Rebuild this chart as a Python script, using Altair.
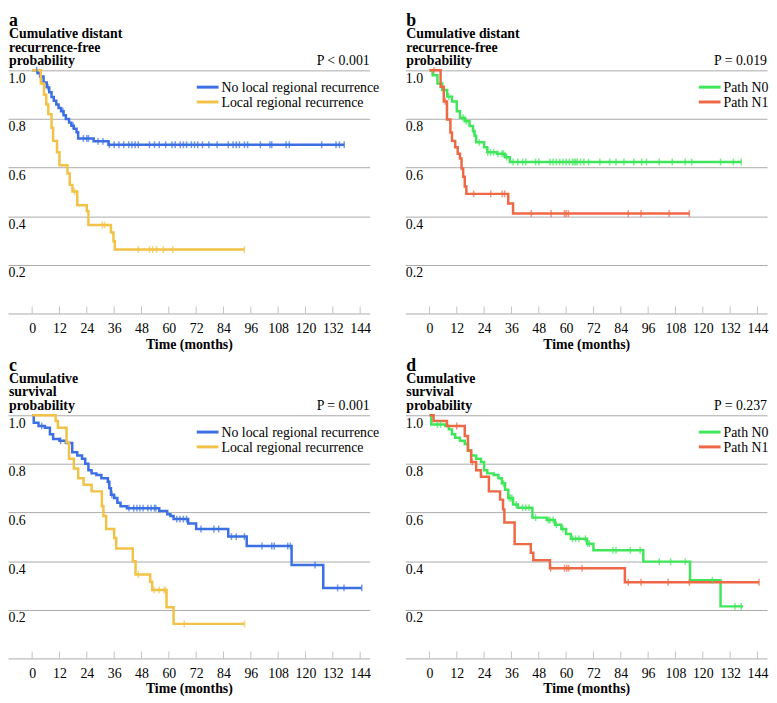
import altair as alt
import pandas as pd

FONT = "Liberation Serif"
W, H = 366, 246
XMIN, XMAX = -10.6, 148.2

x_ticks = [0, 12, 24, 36, 48, 60, 72, 84, 96, 108, 120, 132, 144]
y_ticks = [0.2, 0.4, 0.6, 0.8, 1.0]

# ---------- Panel a : distant recurrence-free, by local regional recurrence
a_names = ["No local regional recurrence", "Local regional recurrence"]
a_no_t = [0, 2.5, 3.5, 5.0, 6.4, 7.5, 8.5, 9.5, 10.6, 11.6, 12.7, 13.8, 14.8, 16.2, 17.2, 18.3, 19.5, 20.2, 27.0, 33.5]
a_no_v = [1.0, 0.988, 0.975, 0.95, 0.93, 0.91, 0.89, 0.875, 0.86, 0.845, 0.832, 0.815, 0.80, 0.785, 0.772, 0.76, 0.745, 0.72, 0.708, 0.694]
a_no_end = 137.0
a_no_c = [2.0, 7.0, 13.5, 18.0, 22.5, 24.0, 24.7, 28.9, 31.1, 33.9, 36.0, 38.1, 40.2, 42.4, 43.8, 45.2, 46.6,
          51.5, 53.7, 55.8, 58.6, 61.4, 62.8, 65.0, 66.4, 67.8, 69.9, 71.3, 72.7, 74.8, 77.6, 81.2, 86.1,
          88.2, 89.6, 91.0, 93.2, 94.6, 100.2, 104.4, 105.2, 111.5, 112.9, 127.1, 133.4, 134.9, 137.0]
a_lr_t = [0, 3.8, 5.2, 6.2, 7.1, 8.5, 9.2, 10.9, 12.0, 15.5, 16.5, 17.7, 19.8, 24.0, 24.7, 34.6, 35.7, 36.3]
a_lr_v = [1.0, 0.946, 0.90, 0.86, 0.82, 0.764, 0.71, 0.663, 0.61, 0.576, 0.529, 0.502, 0.445, 0.421, 0.364, 0.333, 0.297, 0.263]
a_lr_end = 93.2
a_lr_c = [18.6, 30.8, 31.8, 46.6, 51.5, 52.9, 54.6, 57.6, 61.7, 93.2]

# ---------- Panel b : distant recurrence-free, by pathologic N
b_names = ["Path N0", "Path N1"]
b_n0_t = [0, 1.4, 3.5, 5.6, 7.8, 9.9, 12.0, 13.4, 15.5, 17.6, 19.1, 19.8, 20.5, 24.0, 25.4, 29.6, 33.2, 35.3]
b_n0_v = [1.0, 0.98, 0.946, 0.919, 0.892, 0.872, 0.832, 0.805, 0.791, 0.771, 0.751, 0.731, 0.704, 0.684, 0.663, 0.657, 0.643, 0.623]
b_n0_end = 136.9
b_n0_c = [8.5, 14.8, 16.2, 19.3, 21.9, 25.6, 26.8, 28.2, 30.0, 31.9, 32.5, 33.9, 36.7, 38.8, 40.9, 42.3, 46.6, 48.0,
          52.9, 54.3, 55.7, 57.2, 58.6, 60.0, 61.4, 62.8, 63.5, 64.2, 64.9, 66.3, 67.8, 69.9, 74.8, 79.1, 81.9,
          85.4, 89.7, 93.2, 95.3, 100.9, 106.6, 112.3, 115.1, 127.8, 133.4, 136.9]
b_n1_t = [0, 4.9, 6.3, 7.7, 9.2, 9.9, 11.3, 12.4, 13.4, 14.1, 14.8, 15.5, 16.2, 34.6, 36.7]
b_n1_v = [1.0, 0.933, 0.872, 0.798, 0.744, 0.71, 0.684, 0.657, 0.637, 0.596, 0.562, 0.522, 0.492, 0.452, 0.411]
b_n1_end = 114.1
b_n1_c = [2.0, 7.0, 19.4, 26.9, 31.9, 33.0, 44.7, 53.4, 59.3, 60.0, 61.0, 87.3, 92.9, 105.2, 114.1]

# ---------- Panel c : survival, by local regional recurrence
c_no_t = [0, 0.7, 2.8, 5.6, 7.8, 9.2, 12.0, 14.8, 17.6, 19.8, 21.9, 23.3, 24.7, 26.1, 28.2, 30.4, 33.2, 33.9,
          34.6, 36.0, 37.4, 38.8, 41.6, 55.8, 59.3, 60.7, 62.1, 68.5, 72.0, 86.1, 94.2, 113.9, 127.8]
c_no_v = [1.0, 0.969, 0.956, 0.949, 0.922, 0.902, 0.895, 0.886, 0.848, 0.835, 0.821, 0.801, 0.774, 0.761, 0.754,
          0.741, 0.727, 0.70, 0.673, 0.66, 0.64, 0.626, 0.618, 0.606, 0.593, 0.586, 0.573, 0.555, 0.532, 0.501,
          0.462, 0.384, 0.29]
c_no_end = 144.7
c_no_c = [4.2, 12.5, 33.5, 35.0, 42.5, 44.6, 46.0, 47.3, 48.7, 50.8, 52.2, 53.7, 54.3, 63.5, 64.9, 66.4, 67.8,
          74.1, 79.8, 81.9, 87.5, 89.6, 93.2, 100.9, 105.2, 106.3, 112.2, 113.4, 124.2, 134.1, 136.9, 144.7]
c_lr_t = [0, 10.3, 11.3, 15.1, 16.2, 18.3, 20.2, 22.6, 26.1, 30.6, 31.3, 32.5, 36.0, 36.9, 44.2, 45.4, 51.8, 52.7, 59.0, 62.1]
c_lr_v = [1.0, 0.976, 0.949, 0.888, 0.821, 0.781, 0.741, 0.714, 0.687, 0.626, 0.586, 0.532, 0.495, 0.452, 0.40,
          0.345, 0.315, 0.281, 0.21, 0.142]
c_lr_end = 93.2
c_lr_c = [46.6, 53.5, 55.8, 57.9, 58.6, 66.8, 93.2]

# ---------- Panel d : survival, by pathologic N
d_n0_t = [0, 0.8, 7.0, 8.5, 9.9, 11.3, 13.4, 15.5, 16.9, 18.3, 20.5, 22.6, 24.0, 25.4, 28.2, 30.3, 31.8, 33.2,
          34.6, 36.7, 38.8, 45.2, 51.5, 55.1, 57.9, 60.0, 62.1, 69.2, 72.0, 93.9, 114.4, 127.8]
d_n0_v = [1.0, 0.962, 0.956, 0.942, 0.922, 0.908, 0.895, 0.882, 0.855, 0.835, 0.821, 0.808, 0.774, 0.761, 0.754,
          0.741, 0.72, 0.694, 0.66, 0.633, 0.62, 0.579, 0.569, 0.55, 0.532, 0.512, 0.492, 0.472, 0.445, 0.398,
          0.321, 0.214]
d_n0_end = 137.7
d_n0_c = [3.5, 4.9, 32.5, 35.0, 35.6, 36.2, 38.1, 40.9, 42.3, 43.7, 46.6, 52.2, 52.9, 54.3, 55.7, 58.6, 62.8,
          64.2, 65.6, 68.5, 69.5, 70.2, 80.5, 81.9, 88.2, 92.5, 100.9, 105.9, 112.3, 124.2, 134.1, 136.9]
d_n1_t = [0, 1.8, 7.7, 15.5, 16.9, 18.3, 20.5, 22.6, 26.1, 31.0, 32.3, 32.9, 37.4, 44.5, 45.6, 52.9, 85.8]
d_n1_v = [1.0, 0.976, 0.956, 0.915, 0.855, 0.808, 0.774, 0.747, 0.687, 0.653, 0.613, 0.559, 0.47, 0.435, 0.404,
          0.371, 0.313]
d_n1_end = 144.7
d_n1_c = [12.0, 18.8, 53.2, 59.3, 60.3, 61.1, 67.0, 87.3, 92.9, 104.8, 114.1, 144.7]

BLUE, YELLOW, GREEN, RED = "#3b6fe3", "#f2c246", "#40e65a", "#ef6845"
GRID = "#aaaaaa"


def step_rows(name, times, values, end):
    rows = [{"t": t, "s": v, "g": name} for t, v in zip(times, values)]
    rows.append({"t": end, "s": values[-1], "g": name})
    return rows


def censor_rows(name, times, values, cens):
    rows = []
    for c in cens:
        s = values[0]
        for t, v in zip(times, values):
            if t <= c:
                s = v
        rows.append({"t": c, "s": s, "g": name})
    return rows


def label(txt, xpos, ypos, size, weight, align="left"):
    return alt.Chart(pd.DataFrame({"txt": [txt]})).mark_text(
        align=align, baseline="alphabetic", font=FONT, fontSize=size, fontWeight=weight, color="black"
    ).encode(x=alt.value(xpos), y=alt.value(ypos), text="txt:N")


def legend_entry(name, col, x0, row):
    yc = 17 + 15 * row
    sym = alt.Chart(pd.DataFrame({"g": [name]})).mark_rule(strokeWidth=3, color=col).encode(
        x=alt.value(x0), x2=alt.value(x0 + 22), y=alt.value(yc))
    txt = label(name, x0 + 25, yc + 5, 14, "normal")
    return [sym, txt]


def panel(letter, ylines, ptext, names, colors, series, legend_off):
    line_rows, cens_rows = [], []
    for name, (tt, vv, end, cc) in zip(names, series):
        line_rows += step_rows(name, tt, vv, end)
        cens_rows += censor_rows(name, tt, vv, cc)
    line_df = pd.DataFrame(line_rows)
    cens_df = pd.DataFrame(cens_rows)

    xs = alt.Scale(domain=[XMIN, XMAX], nice=False, zero=False)
    ys = alt.Scale(domain=[0, 1], nice=False, zero=True)
    cs = alt.Scale(domain=names, range=colors)
    x_axis = alt.Axis(
        values=x_ticks, title="Time (months)", ticks=False, grid=False, domain=True,
        domainColor=GRID, domainWidth=1, labelFont=FONT, labelFontSize=14, labelColor="black",
        labelPadding=8, labelFlush=False, labelOverlap=False, titleFont=FONT, titleFontSize=14,
        titleFontWeight="bold", titleColor="black", titlePadding=2)
    y_axis = alt.Axis(
        values=y_ticks, format=".1f", title=None, ticks=False, domain=False, grid=True,
        gridColor=GRID, gridWidth=1, labelAlign="left", labelBaseline="top", labelPadding=0,
        labelOffset=1, labelFont=FONT, labelFontSize=14, labelColor="black", labelFlush=False,
        labelOverlap=False)
    x_enc = alt.X("t:Q", scale=xs, axis=x_axis)
    y_enc = alt.Y("s:Q", scale=ys, axis=y_axis)

    tick_layer = alt.Chart(pd.DataFrame({"t": x_ticks})).mark_tick(
        orient="vertical", size=7, thickness=1, color=GRID, yOffset=-3.5
    ).encode(x=x_enc, y=alt.value("height"))

    lines = alt.Chart(line_df).mark_line(interpolate="step-after", strokeWidth=2.5).encode(
        x=x_enc, y=y_enc, color=alt.Color("g:N", scale=cs, legend=None), detail="g:N")
    cens = alt.Chart(cens_df).mark_tick(orient="vertical", size=7, thickness=1.5).encode(
        x=x_enc, y=y_enc, color=alt.Color("g:N", scale=cs, legend=None))

    texts = [
        label(letter, 1, -45, 18, "bold"),
        label(ylines[0], 1, -33, 14, "bold"),
        label(ylines[1], 1, -19, 14, "bold"),
        label(ylines[2], 1, -5, 14, "bold"),
        label(ptext, W, -5, 14, "normal", align="right"),
    ]
    leg = []
    for i, (n, c) in enumerate(zip(names, colors)):
        leg += legend_entry(n, c, W - legend_off, i)

    return alt.layer(lines, cens, tick_layer, *texts, *leg).properties(width=W, height=H)


ya = ["Cumulative distant", "recurrence-free", "probability"]
ys_ = ["Cumulative", "survival", "probability"]

pa = panel("a", ya, "P < 0.001", a_names, [BLUE, YELLOW],
           [(a_no_t, a_no_v, a_no_end, a_no_c), (a_lr_t, a_lr_v, a_lr_end, a_lr_c)], 175)
pb = panel("b", ya, "P = 0.019", b_names, [GREEN, RED],
           [(b_n0_t, b_n0_v, b_n0_end, b_n0_c), (b_n1_t, b_n1_v, b_n1_end, b_n1_c)], 69)
pc = panel("c", ys_, "P = 0.001", a_names, [BLUE, YELLOW],
           [(c_no_t, c_no_v, c_no_end, c_no_c), (c_lr_t, c_lr_v, c_lr_end, c_lr_c)], 175)
pd_ = panel("d", ys_, "P = 0.237", b_names, [GREEN, RED],
            [(d_n0_t, d_n0_v, d_n0_end, d_n0_c), (d_n1_t, d_n1_v, d_n1_end, d_n1_c)], 69)

row1 = alt.hconcat(pa, pb, spacing=26).resolve_scale(color="independent")
row2 = alt.hconcat(pc, pd_, spacing=26).resolve_scale(color="independent")

chart = alt.vconcat(row1, row2, spacing=6).resolve_scale(color="independent").properties(
    padding=0
).configure(background="white", font=FONT).configure_view(stroke=None).configure_axis(
    labelFont=FONT, titleFont=FONT)

chart.save("out.html", embed_options={"renderer": "svg", "actions": False})
